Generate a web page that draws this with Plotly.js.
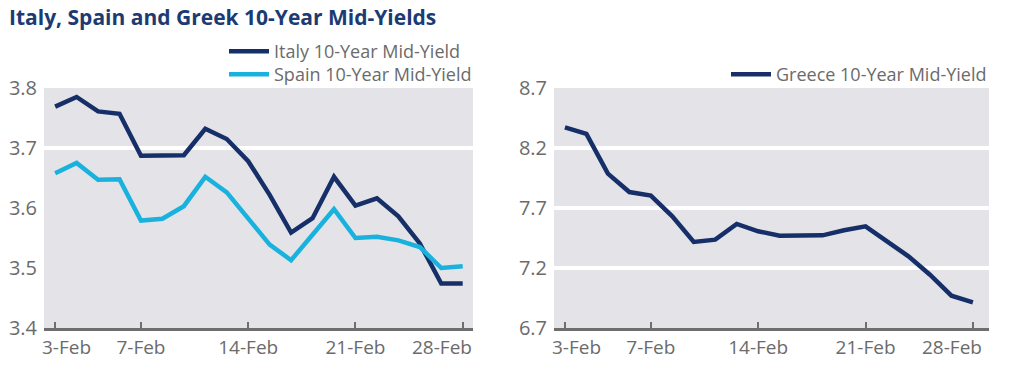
<!DOCTYPE html>
<html>
<head>
<meta charset="utf-8">
<script src="https://cdn.plot.ly/plotly-3.0.1.min.js"></script>
<style>html,body{margin:0;padding:0;background:#fff;}#chart{width:1013px;height:374px;}</style>
</head>
<body>
<div id="chart"></div>
<script>
// Business days in February
const dates = ["3-Feb","4-Feb","5-Feb","6-Feb","7-Feb","10-Feb","11-Feb","12-Feb","13-Feb","14-Feb",
               "17-Feb","18-Feb","19-Feb","20-Feb","21-Feb","24-Feb","25-Feb","26-Feb","27-Feb","28-Feb"];
const tickDates = ["3-Feb","7-Feb","14-Feb","21-Feb","28-Feb"];

const italy = [3.769,3.785,3.761,3.757,3.687,3.687,3.688,3.732,3.715,3.678,
               3.622,3.559,3.583,3.652,3.604,3.616,3.586,3.541,3.474,3.474];
const spain = [3.658,3.675,3.647,3.648,3.579,3.582,3.603,3.652,3.626,3.582,
               3.539,3.513,3.556,3.598,3.550,3.552,3.546,3.535,3.500,3.503];
const greece = [8.372,8.317,7.986,7.833,7.803,7.631,7.417,7.436,7.567,7.506,
                7.469,7.469,7.472,7.514,7.547,7.422,7.297,7.144,6.969,6.914];

const leftTicks = [3.4,3.5,3.6,3.7,3.8];
const leftGridVals = [3.7];
const rightTicks = [6.7,7.2,7.7,8.2,8.7];

const navy = '#172f69';
const cyan = '#19b2de';
const grayText = '#6b6b6b';
const axisGray = '#6e6e6e';
const FONT = 'Open Sans, sans-serif';
const TICKSIZE = 19;

const traces = [
  {x: dates, y: italy, type:'scatter', mode:'lines', name:'Italy 10-Year Mid-Yield',
   line:{color:navy, width:4.5}, xaxis:'x', yaxis:'y', legend:'legend'},
  {x: dates, y: spain, type:'scatter', mode:'lines', name:'Spain 10-Year Mid-Yield',
   line:{color:cyan, width:4.5}, xaxis:'x', yaxis:'y', legend:'legend3'},
  {x: dates, y: greece, type:'scatter', mode:'lines', name:'Greece 10-Year Mid-Yield',
   line:{color:navy, width:4.5}, xaxis:'x2', yaxis:'y2', legend:'legend2'}
];

// inner tick labels drawn by the axis; the first and last are placed as annotations
// (nudged inside the plot edges as in the original)
const innerLabels = tickDates.map((d,i) => (i===0 || i===tickDates.length-1) ? '' : d);

function xAxis(domain, range){
  return {
    domain: domain, type:'category', categoryorder:'array', categoryarray: dates,
    range: range, tickmode:'array', tickvals: tickDates, ticktext: innerLabels,
    showline:true, linecolor:axisGray, linewidth:3,
    ticks:'inside', ticklen:6, tickwidth:2, tickcolor:axisGray,
    showgrid:false, zeroline:false,
    tickfont:{family:FONT, size:TICKSIZE, color:grayText}, fixedrange:true
  };
}

function edgeLabels(xref){
  const first = tickDates[0], last = tickDates[tickDates.length-1];
  const common = {xref:xref, yref:'paper', y:(374-347)/374, yanchor:'middle', showarrow:false,
                  font:{family:FONT, size:TICKSIZE, color:grayText}};
  return [
    Object.assign({}, common, {x:first, text:first, xanchor:'left', xshift:-15}),
    Object.assign({}, common, {x:last, text:last, xanchor:'right', xshift:11})
  ];
}

const legendCommon = {xanchor:'left', yanchor:'top', orientation:'v',
  bgcolor:'rgba(0,0,0,0)', borderwidth:0, itemwidth:40,
  font:{family:FONT, size:18, color:grayText}};

const layout = {
  width:1013, height:374,
  margin:{l:0, r:0, t:0, b:0},
  paper_bgcolor:'#ffffff', plot_bgcolor:'#e4e4e8',
  font:{family:FONT, color:grayText},
  title:{text:'<b>Italy, Spain and Greek 10-Year Mid-Yields</b>',
         font:{family:FONT, size:21, color:'#1c3b72'},
         x:9/1013, xanchor:'left', xref:'paper', y:1-18/374, yanchor:'middle', yref:'container'},
  xaxis: xAxis([44/1013, 473/1013], [-0.52, 19.48]),
  xaxis2: xAxis([554/1013, 989/1013], [-0.51, 19.75]),
  yaxis: {domain:[46/374, 286/374], range:[3.4,3.8], tickmode:'array', tickvals:leftTicks,
          ticktext: leftTicks.map(v=>v.toFixed(1)),
          showgrid:false, zeroline:false, showline:false, ticks:'', ticklabelstandoff:6,
          tickfont:{family:FONT, size:20, color:grayText}, fixedrange:true},
  yaxis2: {domain:[46/374, 286/374], range:[6.7,8.7], tickmode:'array', tickvals:rightTicks,
           ticktext: rightTicks.map(v=>v.toFixed(1)), anchor:'x2',
           showgrid:true, gridcolor:'#ffffff', gridwidth:4, zeroline:false, showline:false, ticks:'',
           ticklabelstandoff:6,
           tickfont:{family:FONT, size:20, color:grayText}, fixedrange:true},
  shapes: leftGridVals.map(v => ({type:'line', xref:'x domain', yref:'y', x0:0, x1:1, y0:v, y1:v,
                                  line:{color:'#ffffff', width:4}, layer:'below'})),
  annotations: edgeLabels('x').concat(edgeLabels('x2')),
  legend: Object.assign({}, legendCommon, {x:224/1013, y:1-33/374}),
  legend3: Object.assign({}, legendCommon, {x:224/1013, y:1-56/374}),
  legend2: Object.assign({}, legendCommon, {x:726/1013, y:1-56/374}),
  showlegend:true
};

Plotly.newPlot('chart', traces, layout, {displayModeBar:false, staticPlot:true});
</script>
</body>
</html>
